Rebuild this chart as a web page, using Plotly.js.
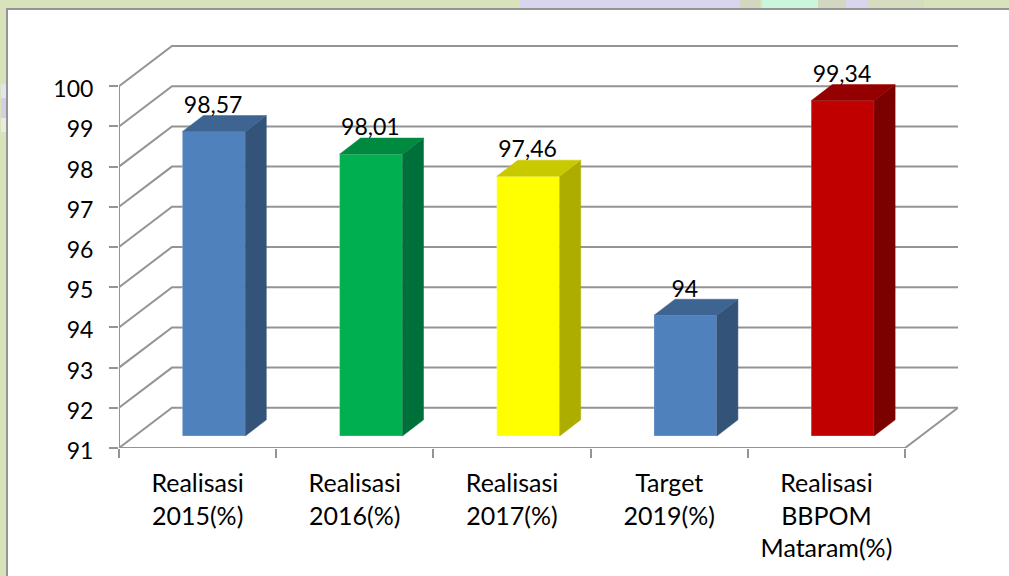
<!DOCTYPE html>
<html>
<head>
<meta charset="utf-8">
<script src="https://cdn.plot.ly/plotly-3.0.1.min.js"></script>
<style>
html,body{margin:0;padding:0;width:1009px;height:576px;overflow:hidden;background:#d8e3bb}
.bg{position:absolute}
#panel{position:absolute;left:6px;top:8px;width:1003px;height:568px;background:#fff;border-left:2px solid #949494;border-top:2px solid #949494;box-sizing:border-box}
#chart{position:absolute;left:0;top:0;width:1009px;height:576px}
</style>
</head>
<body>
<div id="decor"></div>
<div id="panel"></div>
<div id="chart"></div>
<script>
// Data
const categories = ["Realisasi<br>2015(%)", "Realisasi<br>2016(%)", "Realisasi<br>2017(%)", "Target<br>2019(%)", "Realisasi<br>BBPOM<br>Mataram(%)"];
const values = [98.57, 98.01, 97.46, 94, 99.34];
const valueLabels = ["98,57", "98,01", "97,46", "94", "99,34"];
const yTicks = [91, 92, 93, 94, 95, 96, 97, 98, 99, 100];
const frontColors = ["#4f81bd", "#00b050", "#ffff00", "#4f81bd", "#c00000"];
const sideColors = ["#335379", "#00703a", "#adad00", "#335379", "#7b0000"];
const topColors = ["#3e6592", "#008a40", "#c9c900", "#3e6592", "#940000"];
// Wall/floor projection, in axis units
const wallDx = 0.337, wallDy = 1;
const barStart = 0.403, barWidth = 0.4, barDx = 0.134, barDy = 0.4, barBaseLift = 0.3;
const yBottom = 91, yTop = 101.025;
const xMax = categories.length + wallDx;
const gridColor = "#949494", textColor = "#000";
const fontName = "Lato, sans-serif";

// Page background decoration
const strips = [
  [520,0,220,8,"#d9d5ee"],[740,0,20,8,"#d2d8bf"],[762,0,56,8,"#c9f6dc"],[818,0,28,8,"#d2d8bf"],
  [846,0,22,8,"#d9d5ee"],[868,0,56,8,"#d5dcc0"],[1,84,5,14,"#e4e4ee"],[1,98,5,20,"#d2cfe6"],[1,118,5,14,"#e8ecdc"]
];
document.getElementById("decor").innerHTML = strips.map(s =>
  `<div class="bg" style="left:${s[0]}px;top:${s[1]}px;width:${s[2]}px;height:${s[3]}px;background:${s[4]}"></div>`).join("");

const traces = [];
// Gridlines: front edge, up the side wall, along the back wall
const gx = [], gy = [];
yTicks.forEach(v => { gx.push(0, wallDx, xMax, null); gy.push(v, v + wallDy, v + wallDy, null); });
traces.push({type:"scatter", mode:"lines", x:gx, y:gy, line:{color:gridColor, width:2}, hoverinfo:"skip", showlegend:false, cliponaxis:false});
// Floor front edge + right diagonal and value-axis line
traces.push({type:"scatter", mode:"lines",
  x:[xMax, categories.length, 0, 0],
  y:[yBottom + wallDy, yBottom, yBottom, yTicks[yTicks.length-1]],
  line:{color:gridColor, width:2}, hoverinfo:"skip", showlegend:false, cliponaxis:false});

// Bar front faces (real bars), overlay subplot so they cover gridlines
const barX = values.map((v,i) => i + barStart + barWidth/2);
traces.push({type:"bar", xaxis:"x2", yaxis:"y2", x:barX, y:values.map(v => v - yBottom),
  base:values.map(() => yBottom + barBaseLift), width:barWidth,
  marker:{color:frontColors, line:{color:"rgba(255,255,255,0.25)", width:1}}, showlegend:false, hoverinfo:"skip"});
// Side and top faces
values.forEach((v,i) => {
  const l = i + barStart, r = l + barWidth, b = yBottom + barBaseLift, t = v + barBaseLift;
  traces.push({type:"scatter", mode:"lines", xaxis:"x2", yaxis:"y2", fill:"toself", fillcolor:sideColors[i],
    x:[r, r+barDx, r+barDx, r, r], y:[b, b+barDy, t+barDy, t, b],
    line:{color:sideColors[i], width:0.5}, hoverinfo:"skip", showlegend:false, cliponaxis:false});
  traces.push({type:"scatter", mode:"lines", xaxis:"x2", yaxis:"y2", fill:"toself", fillcolor:topColors[i],
    x:[l, l+barDx, r+barDx, r, l], y:[t, t+barDy, t+barDy, t, t],
    line:{color:topColors[i], width:0.5}, hoverinfo:"skip", showlegend:false, cliponaxis:false});
});
// Value labels
traces.push({type:"scatter", mode:"text", xaxis:"x2", yaxis:"y2", x:barX.map(x => x - 0.004), y:values.map(v => v + barBaseLift + 0.61),
  text:valueLabels, textposition:"middle center", textfont:{family:fontName, size:23, color:textColor},
  hoverinfo:"skip", showlegend:false, cliponaxis:false});

const layout = {
  width:1009, height:576,
  margin:{l:119, r:51, t:45, b:128, pad:0},
  paper_bgcolor:"rgba(0,0,0,0)", plot_bgcolor:"rgba(0,0,0,0)",
  showlegend:false, bargap:0,
  font:{family:fontName, size:23, color:textColor},
  xaxis:{range:[0,xMax], tickmode:"array", tickvals:categories.map((c,i)=>i+0.5), ticktext:categories,
    ticks:"", ticklen:0, showgrid:false, zeroline:false, showline:false, tickangle:0, ticklabelstandoff:18,
    tickfont:{family:fontName, size:25, color:textColor}, fixedrange:true},
  yaxis:{range:[yBottom,yTop], tickmode:"array", tickvals:yTicks, ticktext:yTicks.map(String),
    ticks:"outside", ticklen:9, tickwidth:2, tickcolor:gridColor, showgrid:false, zeroline:false, showline:false,
    ticklabelstandoff:11, ticklabelshift:3, tickfont:{family:fontName, size:23, color:textColor}, fixedrange:true},
  xaxis2:{overlaying:"x", anchor:"y2", range:[0,xMax], tickmode:"array", tickvals:categories.map((c,i)=>i).concat(categories.length),
    ticks:"outside", ticklen:9, tickwidth:2, tickcolor:gridColor, showticklabels:false, showgrid:false, zeroline:false, showline:false, fixedrange:true},
  yaxis2:{overlaying:"y", anchor:"x2", range:[yBottom,yTop], showticklabels:false, ticks:"", showgrid:false, zeroline:false, showline:false, fixedrange:true}
};
Plotly.newPlot("chart", traces, layout, {displayModeBar:false, staticPlot:true});
</script>
</body>
</html>
